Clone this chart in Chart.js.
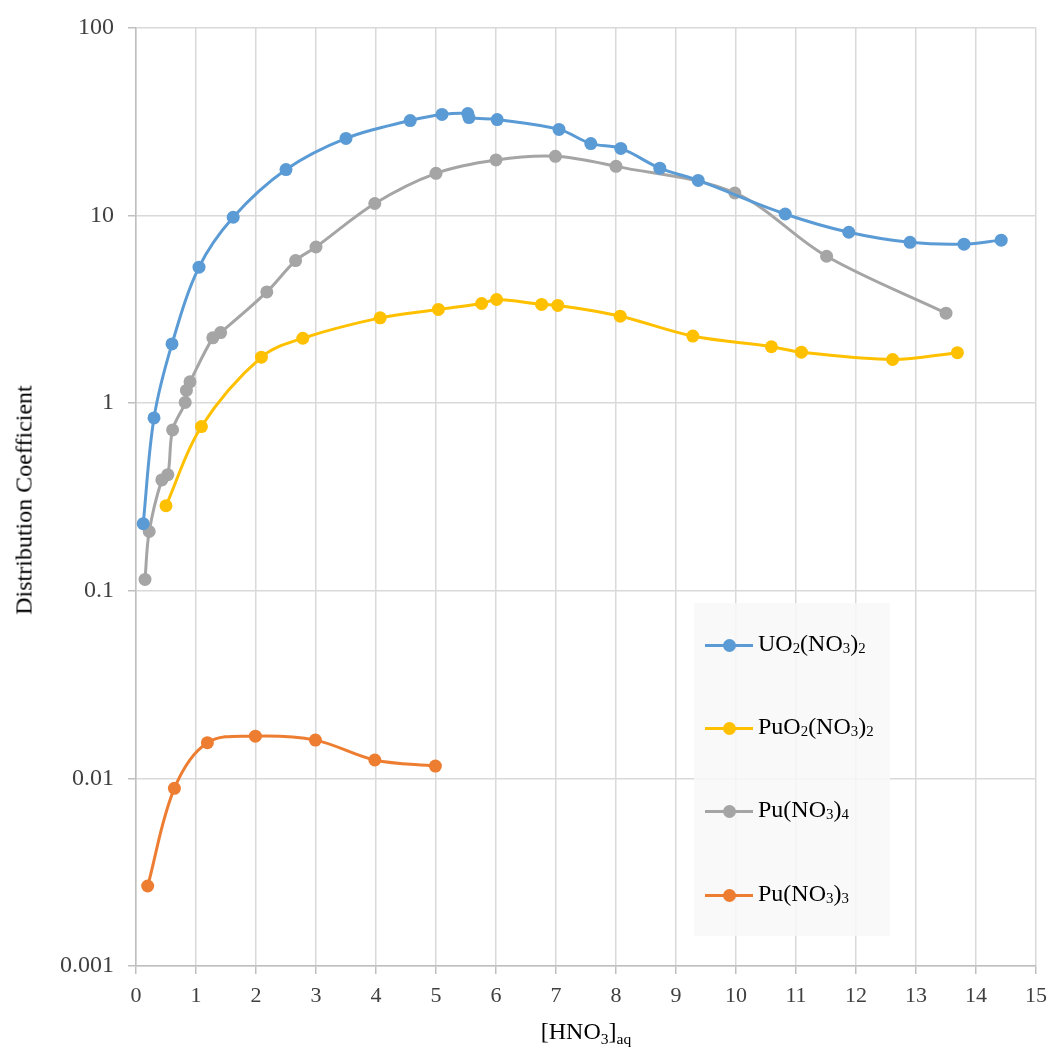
<!DOCTYPE html>
<html><head><meta charset="utf-8">
<script src="https://cdn.jsdelivr.net/npm/chart.js@4.4.0/dist/chart.umd.min.js"></script>
<style>
html,body{margin:0;padding:0;background:#fff;}
#wrap{position:relative;width:1051px;height:1050px;overflow:hidden;}
#c{position:absolute;left:0;top:0;}
.ytitle{position:absolute;left:24px;top:500px;transform:translate(-50%,-50%) rotate(-90deg);font:24px "Liberation Serif";color:#000;white-space:nowrap;}
.xtitle{position:absolute;left:586px;top:1033px;transform:translate(-50%,-50%);font:24px "Liberation Serif";color:#000;white-space:nowrap;}
.xtitle .s{font-size:0.65em;vertical-align:-0.35em;}
#legend{position:absolute;left:694px;top:603px;width:196px;height:333px;background:rgba(248,248,248,0.85);}
.item{position:absolute;left:11px;height:30px;margin-top:-15px;}
.sym{position:absolute;left:0;top:15px;width:48px;height:3px;margin-top:-1.5px;}
.dot{position:absolute;left:18px;top:15px;width:13px;height:13px;margin-top:-6.5px;border-radius:50%;}
.lab{position:absolute;left:53px;top:0;line-height:30px;font:24px "Liberation Serif";color:#000;white-space:nowrap;}
.lab .s{font-size:0.62em;vertical-align:-0.12em;}
</style>
</head><body>
<div id="wrap">
<canvas id="c" width="1051" height="1050"></canvas>
<div class="ytitle">Distribution Coefficient</div>
<div class="xtitle">[HNO<span class="s">3</span>]<span class="s">aq</span></div>
<div id="legend"></div>
</div>
<script>
// ---- data ----
const uoX   = [0.12, 0.30, 0.60, 1.05, 1.62, 2.50, 3.50, 4.57, 5.10, 5.53, 5.55, 6.02, 7.05, 7.58, 8.08, 8.73, 9.37, 10.82, 11.88, 12.90, 13.80, 14.42];
const uoY   = [0.228, 0.835, 2.07, 5.31, 9.8, 17.6, 25.8, 32.1, 34.6, 35.0, 33.3, 32.5, 28.8, 24.2, 22.8, 17.9, 15.4, 10.2, 8.15, 7.2, 7.04, 7.4];
const puo2X = [0.50, 1.09, 2.09, 2.78, 4.07, 5.04, 5.76, 6.01, 6.76, 7.03, 8.07, 9.28, 10.59, 11.09, 12.61, 13.69];
const puo2Y = [0.284, 0.751, 1.76, 2.22, 2.85, 3.16, 3.40, 3.57, 3.36, 3.32, 2.91, 2.28, 2.0, 1.87, 1.71, 1.86];
const pu4X  = [0.15, 0.22, 0.43, 0.53, 0.61, 0.82, 0.84, 0.90, 1.28, 1.41, 2.18, 2.66, 3.00, 3.98, 5.00, 6.00, 6.99, 8.00, 9.98, 11.51, 13.50];
const pu4Y  = [0.115, 0.207, 0.39, 0.416, 0.72, 1.01, 1.17, 1.30, 2.23, 2.38, 3.92, 5.76, 6.8, 11.6, 16.8, 19.8, 20.7, 18.3, 13.2, 6.07, 3.02];
const pu3X  = [0.195, 0.64, 1.19, 1.99, 2.99, 3.98, 4.99];
const pu3Y  = [0.00267, 0.00885, 0.0155, 0.0168, 0.016, 0.01253, 0.01163];

const seriesNames = ['UO2(NO3)2', 'PuO2(NO3)2', 'Pu(NO3)4', 'Pu(NO3)3'];
const seriesColors = ['#5B9BD5', '#FFC000', '#A5A5A5', '#ED7D31'];
const yTickValues = [0.001, 0.01, 0.1, 1, 10, 100];
const yTickLabels = ['0.001', '0.01', '0.1', '1', '10', '100'];
const xMin = 0, xMax = 15, xStep = 1;
const yMin = 0.001, yMax = 100;

function pts(xs, ys){ return xs.map((x,i)=>({x:x, y:ys[i]})); }
const seriesData = [pts(uoX,uoY), pts(puo2X,puo2Y), pts(pu4X,pu4Y), pts(pu3X,pu3Y)];

const datasets = seriesData.map((d,i)=>({
  label: seriesNames[i],
  data: d,
  borderColor: seriesColors[i],
  backgroundColor: seriesColors[i],
  pointBackgroundColor: seriesColors[i],
  pointBorderColor: seriesColors[i],
  pointRadius: 6.5,
  pointBorderWidth: 0,
  borderWidth: 3,
  tension: 0.35,
  fill: false,
  showLine: true
}));

const gridColor = '#d9d9d9';
const axisColor = '#bfbfbf';
const tickColor = '#404040';

new Chart(document.getElementById('c'), {
  type: 'scatter',
  data: { datasets: datasets },
  options: {
    responsive: false,
    animation: false,
    layout: { padding: { left: 0, right: 15, top: 28, bottom: 0 } },
    plugins: { legend: { display: false }, tooltip: { enabled: false } },
    scales: {
      x: {
        type: 'linear', min: xMin, max: xMax,
        ticks: { stepSize: xStep, color: tickColor, padding: 9, maxRotation: 0,
                 font: { family: 'Liberation Serif', size: 22 } },
        grid: { color: gridColor, lineWidth: 1.5, tickLength: 8, tickColor: axisColor, tickWidth: 1.5 },
        border: { color: axisColor, width: 1.5 },
        afterFit: (s) => { s.height = 84; s.paddingRight = 0; s.paddingLeft = 0; }
      },
      y: {
        type: 'logarithmic', min: yMin, max: yMax,
        afterBuildTicks: (s) => { s.ticks = yTickValues.map(v => ({ value: v, major: true })); },
        ticks: { color: tickColor, padding: 14,
                 font: { family: 'Liberation Serif', size: 24 },
                 callback: (v) => { const i = yTickValues.findIndex(t => Math.abs(t - v) / t < 1e-6); return i >= 0 ? yTickLabels[i] : ''; } },
        grid: { color: gridColor, lineWidth: 1.5, tickLength: 8, tickColor: axisColor, tickWidth: 1.5 },
        border: { color: axisColor, width: 1.5 },
        afterFit: (s) => { s.width = 136; s.paddingTop = 0; s.paddingBottom = 0; }
      }
    }
  }
});

// HTML legend built from series
function subHtml(name){ return name.replace(/(\d)/g, '<span class="s">$1</span>'); }
const legendCenters = [42, 125, 208, 292];
const lg = document.getElementById('legend');
seriesNames.forEach((n,i)=>{
  const it = document.createElement('div');
  it.className = 'item';
  it.style.top = legendCenters[i] + 'px';
  it.innerHTML = '<div class="sym" style="background:'+seriesColors[i]+'"></div>' +
                 '<div class="dot" style="background:'+seriesColors[i]+'"></div>' +
                 '<div class="lab">'+subHtml(n)+'</div>';
  lg.appendChild(it);
});
</script>
</body></html>
